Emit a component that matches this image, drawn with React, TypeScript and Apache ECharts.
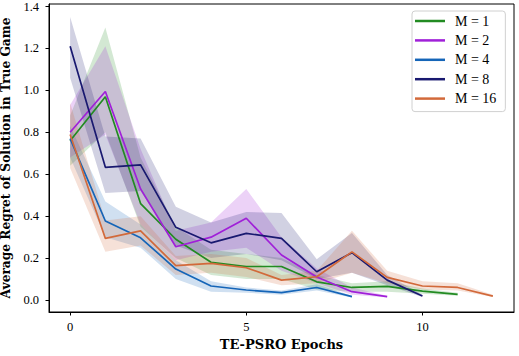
import React, { useEffect, useRef } from "react";
import * as echarts from "echarts";

const seriesNames = ["M = 1", "M = 2", "M = 4", "M = 8", "M = 16"];
const colors = ["#228b22", "#a020d8", "#1565b8", "#191970", "#d2693a"];

const m1 = [0.76, 0.97, 0.46, 0.29, 0.18, 0.16, 0.16, 0.087, 0.06, 0.065, 0.043, 0.027];
const m1Lo = [0.64, 0.8, 0.35, 0.2, 0.12, 0.1, 0.1, 0.05, 0.04, 0.04, 0.03, 0.02];
const m1Hi = [0.88, 1.3, 0.68, 0.35, 0.24, 0.22, 0.2, 0.12, 0.08, 0.09, 0.055, 0.035];

const m2 = [0.8, 0.995, 0.53, 0.254, 0.3, 0.39, 0.215, 0.11, 0.04, 0.016];
const m2Lo = [0.68, 0.79, 0.36, 0.19, 0.23, 0.25, 0.14, 0.08, 0.025, 0.012];
const m2Hi = [0.93, 1.21, 0.72, 0.33, 0.37, 0.53, 0.3, 0.15, 0.06, 0.02];

const m4 = [0.77, 0.377, 0.297, 0.148, 0.067, 0.048, 0.035, 0.06, 0.016];
const m4Lo = [0.68, 0.3, 0.25, 0.1, 0.04, 0.035, 0.025, 0.045, 0.012];
const m4Hi = [0.83, 0.47, 0.36, 0.19, 0.09, 0.06, 0.045, 0.075, 0.02];

const m8 = [1.21, 0.633, 0.645, 0.347, 0.273, 0.318, 0.294, 0.135, 0.226, 0.095, 0.019];
const m8Lo = [1.06, 0.51, 0.52, 0.26, 0.2, 0.22, 0.19, 0.1, 0.13, 0.07, 0.015];
const m8Hi = [1.35, 0.78, 0.77, 0.445, 0.37, 0.42, 0.415, 0.195, 0.32, 0.12, 0.025];

const m16 = [0.79, 0.294, 0.33, 0.164, 0.175, 0.154, 0.095, 0.111, 0.23, 0.108, 0.067, 0.06, 0.019];
const m16Lo = [0.63, 0.23, 0.26, 0.12, 0.13, 0.11, 0.07, 0.08, 0.13, 0.08, 0.05, 0.045, 0.015];
const m16Hi = [0.94, 0.38, 0.4, 0.21, 0.22, 0.2, 0.12, 0.14, 0.33, 0.14, 0.09, 0.08, 0.025];

const xTicks = [0, 5, 10];
const yTicks = [0, 0.2, 0.4, 0.6, 0.8, 1.0, 1.2, 1.4];

const means = [m1, m2, m4, m8, m16];
const lows = [m1Lo, m2Lo, m4Lo, m8Lo, m16Lo];
const highs = [m1Hi, m2Hi, m4Hi, m8Hi, m16Hi];

const FONT = "'Liberation Serif', serif";
const TITLE_FONT = "'DejaVu Serif', serif";

export default function App() {
  const ref = useRef<HTMLDivElement>(null);
  useEffect(() => {
    if (!ref.current) return;
    const chart = echarts.init(ref.current, null, { renderer: "svg" });
    const series: any[] = [];
    means.forEach((m, i) => {
      const lo = lows[i];
      const hi = highs[i];
      series.push({
        type: "custom",
        name: "band" + i,
        silent: true,
        z: 1,
        clip: true,
        data: [[0, 0]],
        renderItem: (params: any, api: any) => {
          const pts: number[][] = [];
          hi.forEach((v, k) => pts.push(api.coord([k, v])));
          for (let k = lo.length - 1; k >= 0; k--) pts.push(api.coord([k, lo[k]]));
          return {
            type: "polygon",
            shape: { points: pts },
            style: { fill: colors[i], opacity: 0.2 },
          };
        },
      });
    });
    means.forEach((m, i) => {
      series.push({
        type: "line",
        name: seriesNames[i],
        data: m.map((v, k) => [k, v]),
        symbol: "none",
        lineStyle: { color: colors[i], width: 1.7 },
        itemStyle: { color: colors[i] },
        z: 3,
      });
    });
    chart.setOption({
      animation: false,
      backgroundColor: "#fff",
      grid: {
        left: 49,
        right: 5,
        top: 4,
        bottom: 44,
        containLabel: false,
        outerBoundsMode: "none",
        show: true,
        borderColor: "#000",
        borderWidth: 1,
        backgroundColor: "transparent",
      },
      legend: {
        data: seriesNames,
        orient: "vertical",
        left: 412,
        top: 11,
        icon: "rect",
        itemWidth: 30,
        itemHeight: 2.5,
        itemGap: 5.4,
        padding: [3, 9, 6, 3],
        borderColor: "#d0d0d0",
        borderWidth: 1,
        borderRadius: 3,
        backgroundColor: "rgba(255,255,255,0.8)",
        textStyle: {
          fontFamily: FONT,
          fontSize: 14,
          color: "#000",
          lineHeight: 14,
          padding: [0, 0, 0, 5],
        },
      },
      xAxis: {
        type: "value",
        min: -0.6,
        max: 12.6,
        name: "TE-PSRO Epochs",
        nameLocation: "middle",
        nameGap: 26,
        nameTextStyle: { fontFamily: TITLE_FONT, fontWeight: "bold", fontSize: 13, color: "#000" },
        splitLine: { show: false },
        axisLine: { onZero: false, lineStyle: { color: "#000", width: 1 } },
        axisTick: { show: true, length: 3.5, lineStyle: { color: "#000" }, customValues: xTicks },
        axisLabel: {
          customValues: xTicks,
          fontFamily: FONT,
          fontSize: 12.5,
          color: "#000",
          margin: 8,
        },
      },
      yAxis: {
        type: "value",
        min: -0.057,
        max: 1.412,
        name: "Average Regret of Solution in True Game",
        nameLocation: "middle",
        nameGap: 37,
        nameTextStyle: { fontFamily: TITLE_FONT, fontWeight: "bold", fontSize: 12.2, color: "#000" },
        splitLine: { show: false },
        axisLine: { show: true, onZero: false, lineStyle: { color: "#000", width: 1 } },
        axisTick: { show: true, length: 3.5, lineStyle: { color: "#000" }, customValues: yTicks },
        axisLabel: {
          customValues: yTicks,
          formatter: (v: number) => v.toFixed(1),
          fontFamily: FONT,
          fontSize: 12.5,
          color: "#000",
          margin: 10,
        },
      },
      series,
    });
    return () => chart.dispose();
  }, []);
  return <div ref={ref} style={{ width: 519, height: 356, position: "fixed", left: 0, top: 0 }} />;
}
